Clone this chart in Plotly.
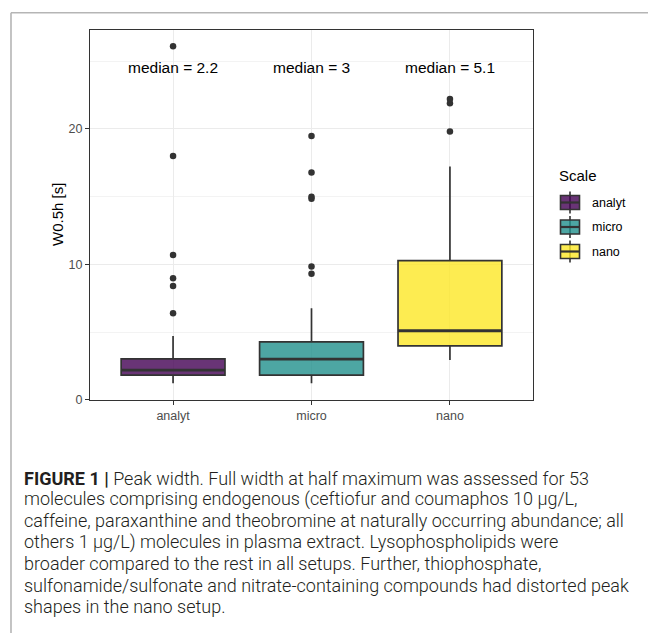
import plotly.graph_objects as go

# ---------------- data ----------------
categories = ["analyt", "micro", "nano"]
q1 = [1.82, 1.82, 3.99]
medians = [2.2, 3.0, 5.1]
q3 = [3.03, 4.28, 10.28]
lower_whisker = [1.23, 1.23, 2.95]
upper_whisker = [4.72, 6.77, 17.22]

outliers_analyt = [6.4, 8.41, 8.98, 10.7, 18.0, 26.1]
outliers_micro = [9.3, 9.84, 14.85, 15.0, 16.78, 19.48]
outliers_nano = [19.8, 21.9, 22.2]

median_labels = ["median = 2.2", "median = 3", "median = 5.1"]
label_y = 24.5

y_ticks = [0, 10, 20]
legend_title = "Scale"
y_title = "W0.5h [s]"

caption_lines = [
    "<b>FIGURE 1 |</b> Peak width. Full width at half maximum was assessed for 53",
    "molecules comprising endogenous (ceftiofur and coumaphos 10 µg/L,",
    "caffeine, paraxanthine and theobromine at naturally occurring abundance; all",
    "others 1 µg/L) molecules in plasma extract. Lysophospholipids were",
    "broader compared to the rest in all setups. Further, thiophosphate,",
    "sulfonamide/sulfonate and nitrate-containing compounds had distorted peak",
    "shapes in the nano setup.",
]

fills = ["rgba(68,1,84,0.8)", "rgba(33,144,140,0.8)", "rgba(253,231,37,0.8)"]
line_col = "#333333"
box_w = 0.75

# ---------------- layout geometry ----------------
W, H = 648, 633
ML, MR, MT, MB = 90, 115, 30, 233
PW, PH = W - ML - MR, H - MT - MB


def xp(px):
    return (px - ML) / PW


def yp(py):
    return (H - MB - py) / PH


fig = go.Figure()
xs = list(range(len(categories)))
outliers_all = [outliers_analyt, outliers_micro, outliers_nano]

for i, cat in enumerate(categories):
    fig.add_trace(go.Box(
        x=[xs[i]], q1=[q1[i]], median=[medians[i]], q3=[q3[i]],
        lowerfence=[lower_whisker[i]], upperfence=[upper_whisker[i]],
        width=box_w, whiskerwidth=0, fillcolor=fills[i],
        line=dict(color=line_col, width=1.7),
        boxpoints=False, name=cat, showlegend=False, hoverinfo="skip",
    ))
    # thicker median line
    fig.add_trace(go.Scatter(
        x=[xs[i] - box_w / 2, xs[i] + box_w / 2], y=[medians[i], medians[i]],
        mode="lines", line=dict(color=line_col, width=2.8),
        showlegend=False, hoverinfo="skip",
    ))
    fig.add_trace(go.Scatter(
        x=[xs[i]] * len(outliers_all[i]), y=outliers_all[i], mode="markers",
        marker=dict(color=line_col, size=6.5), showlegend=False, hoverinfo="skip",
    ))
    fig.add_annotation(x=xs[i], y=label_y, text=median_labels[i], showarrow=False,
                       font=dict(family="Liberation Sans, Arial", size=15.5, color="#000000"),
                       xanchor="center", yanchor="middle")

# ---------------- manual ggplot-like legend ----------------
fig.add_annotation(xref="paper", yref="paper", x=xp(557), y=yp(175), text=legend_title,
                   showarrow=False, xanchor="left", yanchor="middle",
                   font=dict(family="Liberation Sans, Arial", size=15, color="#000000"))
key_centers = [202.5, 227.0, 251.5]
for i, cat in enumerate(categories):
    cy = key_centers[i]
    kx0, kx1 = 560.5, 579.5
    kxc = (kx0 + kx1) / 2
    fig.add_shape(type="line", xref="paper", yref="paper",
                  x0=xp(kxc), x1=xp(kxc), y0=yp(cy - 11), y1=yp(cy + 11),
                  line=dict(color=line_col, width=1.6))
    fig.add_shape(type="rect", xref="paper", yref="paper",
                  x0=xp(kx0), x1=xp(kx1), y0=yp(cy - 7), y1=yp(cy + 7),
                  fillcolor=fills[i], line=dict(color=line_col, width=1.6))
    fig.add_shape(type="line", xref="paper", yref="paper",
                  x0=xp(kx0), x1=xp(kx1), y0=yp(cy), y1=yp(cy),
                  line=dict(color=line_col, width=2.2))
    fig.add_annotation(xref="paper", yref="paper", x=xp(590), y=yp(cy), text=cat,
                       showarrow=False, xanchor="left", yanchor="middle",
                       font=dict(family="Liberation Sans, Arial", size=12.5, color="#000000"))

# ---------------- y axis title ----------------
fig.add_annotation(xref="paper", yref="paper", x=xp(57), y=0.5, text=y_title,
                   showarrow=False, textangle=-90, xanchor="center", yanchor="middle",
                   font=dict(family="Liberation Sans, Arial", size=15, color="#000000"))

# ---------------- outer figure frame ----------------
fig.add_shape(type="line", xref="paper", yref="paper",
              x0=xp(11), x1=xp(W + 5), y0=yp(12.7), y1=yp(12.7),
              line=dict(color="#b5b5b5", width=1.6))
fig.add_shape(type="line", xref="paper", yref="paper",
              x0=xp(11), x1=xp(11), y0=yp(12.7), y1=yp(H + 5),
              line=dict(color="#b5b5b5", width=1.6))

# ---------------- caption ----------------
for k, line in enumerate(caption_lines):
    fig.add_annotation(xref="paper", yref="paper", x=xp(22), y=yp(478 + 21.4 * k),
                       text=line, showarrow=False, xanchor="left", yanchor="middle",
                       font=dict(family="Roboto", size=18, weight=300, color="#231f20"))

fig.update_layout(
    width=W, height=H, autosize=False,
    margin=dict(l=ML, r=MR, t=MT, b=MB),
    paper_bgcolor="white", plot_bgcolor="white",
    showlegend=False,
    font=dict(family="Liberation Sans, Arial"),
)
fig.update_xaxes(
    range=[-0.6, 2.6], tickvals=xs, ticktext=categories,
    showgrid=True, gridcolor="#ebebeb", gridwidth=1, zeroline=False,
    showline=True, mirror=True, linecolor=line_col, linewidth=1.3,
    ticks="outside", ticklen=4, tickcolor=line_col, tickwidth=1.3,
    tickfont=dict(size=12.5, color="#4d4d4d"),
)
fig.update_yaxes(
    range=[-0.01, 27.3], tickvals=y_ticks,
    showgrid=True, gridcolor="#ebebeb", gridwidth=1, zeroline=False,
    minor=dict(tickvals=[5, 15, 25], showgrid=True, gridcolor="#f3f3f3", gridwidth=0.6, ticks=""),
    showline=True, mirror=True, linecolor=line_col, linewidth=1.3,
    ticks="outside", ticklen=4, tickcolor=line_col, tickwidth=1.3,
    tickfont=dict(size=12.5, color="#4d4d4d"),
)

fig.write_html("out.html")
